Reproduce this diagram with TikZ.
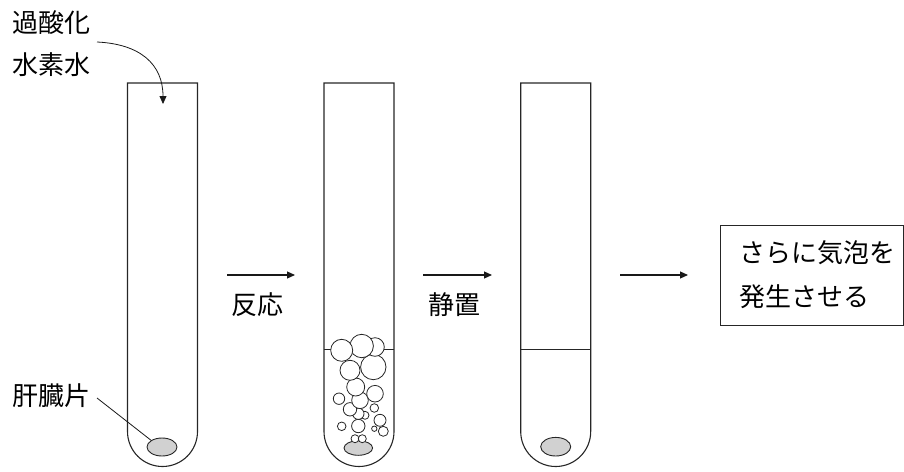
\documentclass[tikz,border=0pt]{standalone}
\usepackage{fontspec}
\newfontfamily\jp{Noto Sans CJK JP}
\usetikzlibrary{arrows.meta,shapes.geometric}

\tikzset{
  tube/.style={draw=black!85, line width=1.1pt},
  level/.style={draw=black!85, line width=1pt},
  liver/.style={draw=black!85, line width=0.9pt, fill=black!18},
  bubble/.style={draw=black!85, line width=0.8pt, fill=white},
  flow/.style={draw=black!90, line width=1.1pt, -{Triangle[length=8pt,width=7pt]}},
  pointer/.style={draw=black!90, line width=0.8pt},
  label/.style={font=\jp\fontsize{26}{31}\selectfont, inner sep=0pt, anchor=west},
  stepbox/.style={draw=black!85, line width=0.9pt}
}

\begin{document}
\begin{tikzpicture}[x=1pt, y=-1pt]
  \useasboundingbox (0,0) rectangle (904,471);

  % test tubes: closed top edge, straight sides, round bottom
  \draw[tube] (127.5,83) -- (127.5,431.5) arc[start angle=180, end angle=360, radius=35pt] -- (197.5,83) -- cycle;
  \draw[tube] (324,83) -- (324,431.5) arc[start angle=180, end angle=360, radius=35pt] -- (394,83) -- cycle;
  \draw[tube] (520.7,83) -- (520.7,431.5) arc[start angle=180, end angle=360, radius=35pt] -- (590.7,83) -- cycle;

  % liquid surfaces
  \draw[level] (324,349) -- (394,349);
  \draw[level] (520.7,349) -- (590.7,349);

  % liver pieces
  \node[liver, ellipse, minimum width=30pt, minimum height=18pt, inner sep=0pt] (liverA) at (162,447) {};
  \draw[liver] (358.3,448) ellipse[x radius=14.3pt, y radius=7.3pt];
  \draw[liver] (555.7,446.7) ellipse[x radius=15pt, y radius=9.3pt];

  % bubbles rising from the liver piece
  \foreach \bx/\by/\br in {
      355/438.7/4, 362.3/438.7/4,
      383.3/431.3/5, 374.3/428.7/2.7, 358.3/426/6.7, 341.7/426.3/4.3,
      380/420.3/6, 365/415.3/4, 358.3/413.7/5.7, 350/409.3/6.7, 374.3/408/4.3,
      360/400.3/8.3, 339/398.7/5.7, 375/393.7/8.3, 355.7/387/9,
      350/370.3/10, 373.3/367/12.7,
      375/347/9.3, 361.7/346/11.7, 341.7/350.3/11}
    \draw[bubble] (\bx,\by) circle[radius=\br pt];

  % labels on the left
  \node[label] (h2o2a) at (12,23) {過酸化};
  \node[label] (h2o2b) at (12,65) {水素水};
  \node[label] (liverlbl) at (12,396) {肝臓片};

  \coordinate (h2o2tip) at (163,104);
  \draw[pointer, -{Triangle[length=8pt,width=7pt]}] (97,42) .. controls (140,44) and (163,64) .. (h2o2tip);
  \draw[pointer] (97,398) -- (liverA.north west);

  % process arrows
  \coordinate (a1s) at (227,275); \coordinate (a1e) at (295,275);
  \coordinate (a2s) at (423,275); \coordinate (a2e) at (492,275);
  \coordinate (a3s) at (620,275); \coordinate (a3e) at (688,275);
  \draw[flow] (a1s) -- (a1e);
  \draw[flow] (a2s) -- (a2e);
  \draw[flow] (a3s) -- (a3e);
  \node[label, anchor=center] (react) at (257,305) {反応};
  \node[label, anchor=center] (rest) at (454,305) {静置};

  % result box
  \draw[stepbox] (720.7,225) rectangle (903.4,325);
  \node[label] (res1) at (739,253) {さらに気泡を};
  \node[label] (res2) at (739,297) {発生させる};
\end{tikzpicture}
\end{document}
